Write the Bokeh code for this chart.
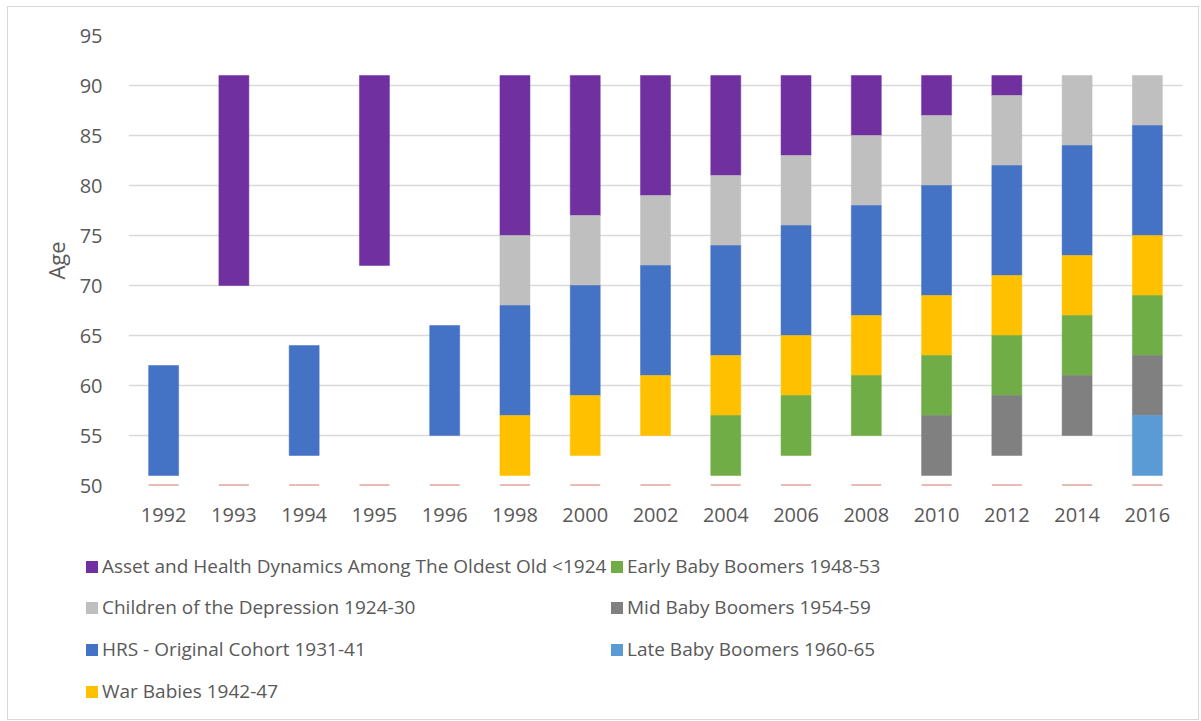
from bokeh.plotting import figure
from bokeh.layouts import column
from bokeh.models import (ColumnDataSource, FactorRange, Range1d, SingleIntervalTicker, Div)
from bokeh.embed import file_html
from bokeh.resources import INLINE

years = ["1992", "1993", "1994", "1995", "1996", "1998", "2000", "2002",
         "2004", "2006", "2008", "2010", "2012", "2014", "2016"]

N = None
# lower / upper age of each cohort in each wave (None = not present)
ahead_lo = [N, 70, N, 72, N, 75, 77, 79, 81, 83, 85, 87, 89, N, N]
ahead_hi = [N, 91, N, 91, N, 91, 91, 91, 91, 91, 91, 91, 91, N, N]
coda_lo = [N, N, N, N, N, 68, 70, 72, 74, 76, 78, 80, 82, 84, 86]
coda_hi = [N, N, N, N, N, 75, 77, 79, 81, 83, 85, 87, 89, 91, 91]
hrs_lo = [51, N, 53, N, 55, 57, 59, 61, 63, 65, 67, 69, 71, 73, 75]
hrs_hi = [62, N, 64, N, 66, 68, 70, 72, 74, 76, 78, 80, 82, 84, 86]
war_lo = [N, N, N, N, N, 51, 53, 55, 57, 59, 61, 63, 65, 67, 69]
war_hi = [N, N, N, N, N, 57, 59, 61, 63, 65, 67, 69, 71, 73, 75]
ebb_lo = [N, N, N, N, N, N, N, N, 51, 53, 55, 57, 59, 61, 63]
ebb_hi = [N, N, N, N, N, N, N, N, 57, 59, 61, 63, 65, 67, 69]
mbb_lo = [N, N, N, N, N, N, N, N, N, N, N, 51, 53, 55, 57]
mbb_hi = [N, N, N, N, N, N, N, N, N, N, N, 57, 59, 61, 63]
lbb_lo = [N, N, N, N, N, N, N, N, N, N, N, N, N, N, 51]
lbb_hi = [N, N, N, N, N, N, N, N, N, N, N, N, N, N, 57]
base = [50] * len(years)

series = [
    ("Asset and Health Dynamics Among The Oldest Old <1924", ahead_lo, ahead_hi, "#7030A0"),
    ("Children of the Depression 1924-30", coda_lo, coda_hi, "#BFBFBF"),
    ("HRS - Original Cohort 1931-41", hrs_lo, hrs_hi, "#4472C4"),
    ("War Babies 1942-47", war_lo, war_hi, "#FFC000"),
    ("Early Baby Boomers 1948-53", ebb_lo, ebb_hi, "#70AD47"),
    ("Mid Baby Boomers 1954-59", mbb_lo, mbb_hi, "#808080"),
    ("Late Baby Boomers 1960-65", lbb_lo, lbb_hi, "#5B9BD5"),
]

FONT = "Open Sans"
TXT = "#595959"
W = 1190

p = figure(width=W, height=538, x_range=FactorRange(*years, range_padding=0),
           y_range=Range1d(50, 95), output_backend="svg", toolbar_location=None,
           min_border_left=120, min_border_right=16, min_border_top=28,
           min_border_bottom=60)
p.outline_line_color = None
p.background_fill_color = "white"
p.border_fill_color = "white"

BW = 0.427
for name, lo, hi, col in series:
    xs = [y for y, a in zip(years, lo) if a is not None]
    bs = [a for a in lo if a is not None]
    ts = [b for b in hi if b is not None]
    src = ColumnDataSource(dict(x=xs, bottom=bs, top=ts))
    p.vbar(x="x", bottom="bottom", top="top", width=BW, source=src,
           fill_color=col, line_color=col, line_width=0.5)

# zero-height base series drawn as thin line at 50
p.vbar(x=years, bottom=base, top=base, width=BW, fill_color="#D07A6E",
       line_color="#D07A6E", line_width=2)

p.xgrid.grid_line_color = None
p.ygrid.grid_line_color = "#D9D9D9"
p.ygrid.grid_line_width = 1.5
p.yaxis.ticker = SingleIntervalTicker(interval=5)

for ax in (p.xaxis[0], p.yaxis[0]):
    ax.axis_line_color = None
    ax.major_tick_line_color = None
    ax.minor_tick_line_color = None
    ax.major_tick_in = 0
    ax.major_tick_out = 0
    ax.major_label_text_font = FONT
    ax.major_label_text_font_size = "20px"
    ax.major_label_text_color = TXT

p.yaxis.major_label_standoff = 22
p.xaxis.major_label_standoff = 22
p.yaxis.axis_label = "Age"
p.yaxis.axis_label_text_font = FONT
p.yaxis.axis_label_text_font_size = "22px"
p.yaxis.axis_label_text_font_style = "normal"
p.yaxis.axis_label_text_color = TXT
p.yaxis.axis_label_standoff = 6

# legend (HTML), two columns: first four cohorts, then the three boomer cohorts
col_left = [78, 603]
row_top = [10, 51, 93, 135]
parts = []
for i, (name, lo, hi, col) in enumerate(series):
    c, r = (0, i) if i < 4 else (1, i - 4)
    label = name.replace("<", "&lt;")
    parts.append(
        f'<div style="position:absolute;left:{col_left[c]}px;top:{row_top[r]}px;'
        f'height:24px;display:flex;align-items:center;white-space:nowrap;">'
        f'<span style="display:inline-block;width:12px;height:12px;'
        f'background:{col};margin-right:4px;"></span>{label}</div>')
legend_html = (f'<div style="position:relative;width:{W}px;height:174px;'
               f'font-family:\'{FONT}\';font-size:19px;color:{TXT};">'
               + "".join(parts) + "</div>")
lg = Div(text=legend_html, width=W, height=174, margin=0)

layout = column(p, lg, spacing=0)
layout.margin = (6, 0, 0, 7)
layout.styles = {"border": "1px solid #D9D9D9", "gap": "0px", "background": "white"}

open("out.html", "w").write(file_html(layout, INLINE))
